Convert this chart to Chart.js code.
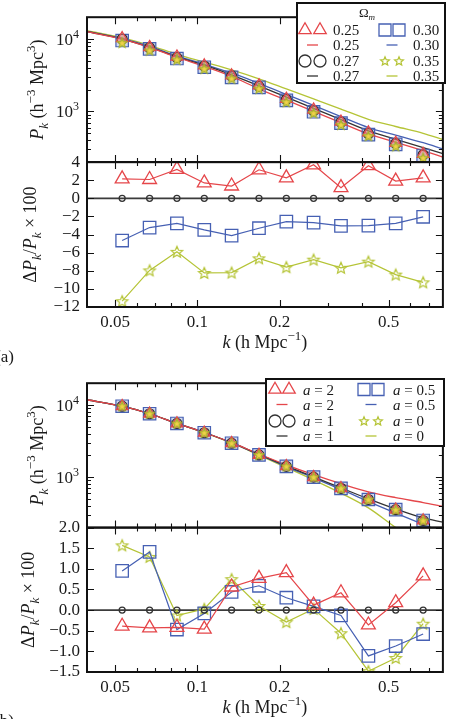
<!DOCTYPE html>
<html>
<head>
<meta charset="utf-8">
<script src="https://cdn.jsdelivr.net/npm/chart.js@4.4.0/dist/chart.umd.min.js"></script>
<style>
  html, body { margin: 0; padding: 0; background: #fff; }
  #wrap { position: relative; width: 453px; height: 719px; overflow: hidden; }
  .box { position: absolute; left: 0; width: 453px; }
  #boxA { top: 0; height: 366px; }
  #boxB { top: 366px; height: 353px; }
</style>
</head>
<body>
<div id="wrap">
  <div class="box" id="boxA"><canvas id="chartA"></canvas></div>
  <div class="box" id="boxB"><canvas id="chartB"></canvas></div>
</div>
<script>
// k grid of the model curves, and the 12 measured k bins
var kLine = [0.0395, 0.0531, 0.0669, 0.0842, 0.106, 0.1334, 0.168, 0.2115, 0.266, 0.335, 0.422, 0.531, 0.669, 0.79];
var kPts = [0.0531, 0.0669, 0.0842, 0.106, 0.1334, 0.168, 0.2115, 0.266, 0.335, 0.422, 0.531, 0.669];
var xTicks = [0.05, 0.1, 0.2, 0.5];

// (a) model curves P(k) for Omega_m
var lineA025 = [12650, 9950, 7650, 5600, 4200, 3050, 2050, 1435, 1005, 700, 490, 375, 287, 235];
var lineA027 = [12700, 10000, 7750, 5680, 4350, 3200, 2250, 1575, 1105, 770, 540, 413, 316, 262];
var lineA030 = [12750, 10100, 7900, 5850, 4480, 3400, 2440, 1720, 1210, 850, 600, 470, 370, 305];
var lineA035 = [13000, 10400, 8200, 6150, 4800, 3750, 2820, 2050, 1490, 1080, 780, 620, 500, 410];
// (a) measured P(k)
var pkA025 = [10220, 7720, 5710, 4300, 3130, 2290, 1490, 1060, 720, 511, 368, 258];
var pkA027 = [10000, 7560, 5530, 4230, 3090, 2220, 1460, 1020, 710, 493, 361, 252];
var pkA030 = [9530, 7320, 5380, 4080, 2960, 2150, 1420, 990, 690, 478, 351, 247];
var pkA035 = [8860, 6960, 5200, 3880, 2840, 2070, 1350, 950, 655, 459, 331, 229];
// (a) relative difference x 100
var dA025 = [2.15, 2.08, 3.2, 1.7, 1.36, 3.15, 2.26, 3.7, 1.18, 3.6, 1.9, 2.26];
var dA027 = [0, 0, 0, 0, 0, 0, 0, 0, 0, 0, 0, 0];
var dA030 = [-4.66, -3.23, -2.76, -3.48, -4.12, -3.3, -2.58, -2.69, -3.05, -3.01, -2.76, -2.04];
var dA035 = [-11.36, -7.96, -5.91, -8.24, -8.2, -6.63, -7.6, -6.77, -7.67, -6.99, -8.42, -9.28];

// (b) model curves for a
var lineB2 = [11800, 9600, 7550, 5560, 4150, 3010, 2090, 1480, 1080, 810, 625, 520, 445, 392];
var lineB1 = [11800, 9600, 7550, 5560, 4150, 3000, 2070, 1430, 1010, 710, 500, 362, 272, 238];
var lineB05 = [11800, 9600, 7550, 5560, 4150, 2990, 2050, 1400, 975, 675, 458, 318, 222, 172];
var lineB0 = [11800, 9600, 7550, 5560, 4140, 2970, 2020, 1360, 915, 600, 375, 200, 112, 66];
// (b) measured P(k)
var pkB = [9600, 7550, 5540, 4120, 2950, 2030, 1410, 1000, 700, 490, 354, 251];
// (b) relative difference x 100
var dB2 = [-0.39, -0.43, -0.42, -0.46, 0.56, 0.77, 0.91, 0.12, 0.42, -0.36, 0.18, 0.83];
var dB1 = [0, 0, 0, 0, 0, 0, 0, 0, 0, 0, 0, 0];
var dB05 = [0.95, 1.41, -0.47, -0.08, 0.44, 0.59, 0.30, 0.09, -0.13, -1.11, -0.87, -0.58];
var dB0 = [1.57, 1.29, -0.13, 0.03, 0.75, 0.10, -0.29, 0.03, -0.56, -1.48, -1.16, -0.33];

var legLabelsA = ['0.25', '0.27', '0.30', '0.35'];
var legLabelsB = ['2', '1', '0.5', '0'];

var FONT = '"Liberation Serif", "DejaVu Serif", serif';
var RED = '#e5464a', BLUE = '#4660b3', YEL = '#b5c436', BLK = '#333333';
var TXT = '#1a1a1a';

// five-point star marker (chart.js 'star' is an asterisk)
function starImg(R, stroke, fill) {
    var s = Math.ceil(R * 2 + 4);
    var c = document.createElement('canvas');
    c.width = s; c.height = s;
    var g = c.getContext('2d');
    g.translate(s / 2, s / 2 + R * 0.08);
    g.beginPath();
    for (var i = 0; i < 10; i++) {
        var r = i % 2 ? R * 0.45 : R;
        var a = -Math.PI / 2 + i * Math.PI / 5;
        g.lineTo(r * Math.cos(a), r * Math.sin(a));
    }
    g.closePath();
    if (fill) { g.fillStyle = fill; g.fill(); }
    g.strokeStyle = stroke; g.lineWidth = 1.2; g.stroke();
    return c;
}
var starTop = starImg(5, '#a9b52c', '#f0d24a');
var starBot = starImg(6, YEL, null);
var starLeg = starImg(4.6, YEL, null);

function pts(xs, ys) {
    return xs.map(function (x, i) { return {x: x, y: ys[i]}; });
}

function curve(ys, color) {
    return {data: pts(kLine, ys), yAxisID: 'yTop', borderColor: color, borderWidth: 1.3,
        pointRadius: 0, cubicInterpolationMode: 'monotone', fill: false, order: 20};
}
function marks(ys, style, r, color, bg, order) {
    return {data: pts(kPts, ys), yAxisID: 'yTop', showLine: false, pointStyle: style, pointRadius: r,
        pointBorderColor: color, pointBackgroundColor: bg, pointBorderWidth: 1.2, order: order};
}
function diffs(ys, style, r, color, order, noLine) {
    return {data: pts(kPts, ys), yAxisID: 'yBot', showLine: !noLine, borderColor: color, borderWidth: 1.2,
        pointStyle: style, pointRadius: r, pointBorderColor: color, pointBackgroundColor: 'rgba(0,0,0,0)',
        pointBorderWidth: 1.3, order: order, tension: 0};
}

// rich text: segments {t, it, sub, sup}
function rich(ctx, segs, x, y, opt) {
    var base = opt.size || 17, small = Math.round(base * 0.7);
    var fontOf = function (s) { return (s.it ? 'italic ' : '') + ((s.sub || s.sup) ? small : base) + 'px ' + FONT; };
    var w = 0;
    segs.forEach(function (s) { ctx.font = fontOf(s); s._w = ctx.measureText(s.t).width; w += s._w; });
    ctx.save();
    ctx.translate(x, y);
    if (opt.rot) ctx.rotate(opt.rot);
    var cx = opt.align === 'right' ? -w : (opt.align === 'left' ? 0 : -w / 2);
    ctx.textAlign = 'left'; ctx.textBaseline = 'alphabetic';
    ctx.fillStyle = opt.color || TXT;
    segs.forEach(function (s) {
        ctx.font = fontOf(s);
        var dy = s.sup ? -base * 0.42 : (s.sub ? base * 0.25 : 0);
        ctx.fillText(s.t, cx, dy);
        cx += s._w;
    });
    ctx.restore();
}

function drawMark(ctx, kind, x, y, color) {
    ctx.save();
    ctx.strokeStyle = color; ctx.lineWidth = 1.3;
    ctx.beginPath();
    if (kind === 'tri') {
        var r = 7.2;
        ctx.moveTo(x, y - r); ctx.lineTo(x + r * 0.866, y + r * 0.5); ctx.lineTo(x - r * 0.866, y + r * 0.5); ctx.closePath();
        ctx.stroke();
    } else if (kind === 'sq') {
        ctx.rect(x - 6, y - 6, 12, 12); ctx.stroke();
    } else if (kind === 'circ') {
        ctx.arc(x, y, 6, 0, Math.PI * 2); ctx.stroke();
    } else if (kind === 'star') {
        ctx.drawImage(starLeg, x - starLeg.width / 2, y - starLeg.height / 2);
    }
    ctx.restore();
}

function drawLegend(ctx, L) {
    ctx.save();
    ctx.fillStyle = '#fff';
    ctx.fillRect(L.x, L.y, L.w, L.h);
    ctx.strokeStyle = '#111'; ctx.lineWidth = 2;
    ctx.strokeRect(L.x, L.y, L.w, L.h);
    if (L.title) {
        rich(ctx, [{t: 'Ω'}, {t: 'm', it: true, sub: true}], L.titleX, L.titleY, {size: 13});
    }
    L.cols.forEach(function (col, c) {
        col.forEach(function (it, r) {
            var y = L.rows[r];
            var m = L.marks[c];
            if (it.mark) {
                drawMark(ctx, it.mark, m[0], y, it.color);
                drawMark(ctx, it.mark, m[1], y, it.color);
            } else {
                var mid = (m[0] + m[1]) / 2;
                ctx.strokeStyle = it.color; ctx.lineWidth = 1.3;
                ctx.beginPath(); ctx.moveTo(mid - 5.5, y); ctx.lineTo(mid + 5.5, y); ctx.stroke();
            }
            rich(ctx, it.text, L.textX[c], y + 5, {size: 15, align: 'left'});
        });
    });
    ctx.restore();
}

function makePanels(cfg) {
    return {
        id: 'panels',
        beforeDatasetsDraw: function (chart) {
            var ctx = chart.ctx, xs = chart.scales.x, yb = chart.scales.yBot;
            var y0 = yb.getPixelForValue(0);
            ctx.save();
            ctx.strokeStyle = '#3b3b3b'; ctx.lineWidth = 1.8;
            ctx.beginPath(); ctx.moveTo(xs.left, y0); ctx.lineTo(xs.right, y0); ctx.stroke();
            ctx.restore();
        },
        beforeDatasetDraw: function (chart, args) {
            var ctx = chart.ctx, m = args.meta;
            ctx.save();
            ctx.beginPath();
            ctx.rect(m.xScale.left, m.yScale.top, m.xScale.right - m.xScale.left, m.yScale.bottom - m.yScale.top);
            ctx.clip();
        },
        afterDatasetDraw: function (chart) { chart.ctx.restore(); },
        afterDraw: function (chart) {
            var ctx = chart.ctx, xs = chart.scales.x, yt = chart.scales.yTop, yb = chart.scales.yBot;
            var xMinor = [0.06, 0.07, 0.08, 0.09, 0.3, 0.4, 0.6, 0.7];
            var logMajor = [1000, 10000], logMinor = [];
            [100, 1000, 10000].forEach(function (d) {
                for (var i = 2; i <= 9; i++) if (i * d > 200 && i * d < 20000) logMinor.push(i * d);
            });
            var linMajor = yb.ticks.map(function (t) { return t.value; });
            ctx.save();
            ctx.strokeStyle = '#111';
            [[yt, logMajor, logMinor], [yb, linMajor, []]].forEach(function (p) {
                var ys = p[0], L = xs.left, R = xs.right, T = ys.top, B = ys.bottom;
                ctx.lineWidth = 1.1;
                ctx.beginPath();
                var xt = function (arr, len) {
                    arr.forEach(function (v) {
                        var q = Math.round(xs.getPixelForValue(v)) + 0.5;
                        ctx.moveTo(q, B); ctx.lineTo(q, B - len);
                        ctx.moveTo(q, T); ctx.lineTo(q, T + len);
                    });
                };
                var yt2 = function (arr, len) {
                    arr.forEach(function (v) {
                        var q = Math.round(ys.getPixelForValue(v)) + 0.5;
                        ctx.moveTo(L, q); ctx.lineTo(L + len, q);
                        ctx.moveTo(R, q); ctx.lineTo(R - len, q);
                    });
                };
                xt(xTicks, 7); xt(xMinor, 4);
                yt2(p[1], 7); yt2(p[2], 4);
                ctx.stroke();
                ctx.lineWidth = 2;
                ctx.strokeRect(L, T, R - L, B - T);
            });
            // log tick labels
            [[1000, '3'], [10000, '4']].forEach(function (p) {
                rich(ctx, [{t: '10'}, {t: p[1], sup: true}], 79, yt.getPixelForValue(p[0]) + 6, {size: 17, align: 'right'});
            });
            // axis titles
            var cyT = (yt.top + yt.bottom) / 2, cyB = (yb.top + yb.bottom) / 2;
            rich(ctx, [{t: 'P', it: true}, {t: 'k', it: true, sub: true}, {t: ' (h'}, {t: '−3', sup: true},
                {t: ' Mpc'}, {t: '3', sup: true}, {t: ')'}], 43, cyT, {size: 18, rot: -Math.PI / 2});
            rich(ctx, [{t: 'Δ'}, {t: 'P', it: true}, {t: 'k', it: true, sub: true}, {t: '/'}, {t: 'P', it: true},
                {t: 'k', it: true, sub: true}, {t: ' × 100'}], cfg.botTitleX, cyB, {size: 18, rot: -Math.PI / 2});
            rich(ctx, [{t: 'k', it: true}, {t: ' (h Mpc'}, {t: '−1', sup: true}, {t: ')'}],
                (xs.left + xs.right) / 2, yb.bottom + 41, {size: 18});
            drawLegend(ctx, cfg.legend);
            rich(ctx, [{t: cfg.tag}], 14, cfg.tagY, {size: 17, align: 'right'});
            ctx.restore();
        }
    };
}

function buildChart(id, datasets, cfg) {
    return new Chart(document.getElementById(id), {
        type: 'line',
        data: {datasets: datasets},
        options: {
            responsive: true,
            maintainAspectRatio: false,
            animation: false,
            events: [],
            layout: {padding: {top: cfg.padTop, right: 4, left: 0, bottom: 0}},
            plugins: {legend: {display: false}, tooltip: {enabled: false}},
            scales: {
                x: {
                    type: 'logarithmic', min: 0.0395, max: 0.79, position: 'bottom',
                    grid: {display: false, drawTicks: false}, border: {display: false},
                    ticks: {font: {family: FONT, size: 17}, color: TXT, padding: 5, autoSkip: false, maxRotation: 0,
                        callback: function (v) { return String(v); }},
                    afterBuildTicks: function (s) { s.ticks = xTicks.map(function (v) { return {value: v}; }); },
                    afterFit: function (s) { s.height = cfg.xHeight; }
                },
                yBot: {
                    type: 'linear', position: 'left', stack: 'p', stackWeight: 1, weight: 1,
                    min: cfg.botMin, max: cfg.botMax,
                    grid: {display: false, drawTicks: false}, border: {display: false},
                    ticks: {stepSize: cfg.botStep, autoSkip: false, font: {family: FONT, size: 17}, color: TXT, padding: 7,
                        callback: cfg.botFmt},
                    afterFit: function (s) { s.width = 87; }
                },
                yTop: {
                    type: 'logarithmic', position: 'left', stack: 'p', stackWeight: 1, weight: 2,
                    min: 200, max: 20000,
                    grid: {display: false, drawTicks: false}, border: {display: false},
                    ticks: {display: false},
                    afterFit: function (s) { s.width = 87; }
                }
            }
        },
        plugins: [makePanels(cfg)]
    });
}

function legendCols(labels, fmt) {
    return [
        [{mark: 'tri', color: RED, text: fmt(labels[0])}, {color: RED, text: fmt(labels[0])},
         {mark: 'circ', color: BLK, text: fmt(labels[1])}, {color: BLK, text: fmt(labels[1])}],
        [{mark: 'sq', color: BLUE, text: fmt(labels[2])}, {color: BLUE, text: fmt(labels[2])},
         {mark: 'star', color: YEL, text: fmt(labels[3])}, {color: YEL, text: fmt(labels[3])}]
    ];
}

var TRI_BG = 'rgba(240,110,80,0.45)', SQ_BG = 'rgba(120,140,210,0.35)';

// (a)
buildChart('chartA', [
    marks(pkA025, 'triangle', 6.8, RED, TRI_BG, 3),
    marks(pkA027, 'circle', 5, BLK, 'rgba(0,0,0,0)', 4),
    marks(pkA030, 'rect', 8.8, BLUE, SQ_BG, 5),
    marks(pkA035, starTop, 5, YEL, YEL, 2),
    curve(lineA025, RED), curve(lineA027, BLK), curve(lineA030, BLUE), curve(lineA035, YEL),
    diffs(dA025, 'triangle', 8, RED, 6),
    diffs(dA027, 'circle', 3, BLK, 7, true),
    diffs(dA030, 'rect', 8.8, BLUE, 8),
    diffs(dA035, starBot, 6, YEL, 9)
], {
    padTop: 9, xHeight: 59, botMin: -12, botMax: 4, botStep: 2, botTitleX: 36, tag: '(a)', tagY: 362,
    botFmt: function (v) { return (v < 0 ? '\u2212' : '') + Math.abs(v); },
    legend: {x: 297, y: 3, w: 148, h: 80, title: true, titleX: 367, titleY: 17,
        rows: [30, 45, 61, 76], marks: [[305, 320], [385, 399]], textX: [333, 413],
        cols: legendCols(legLabelsA, function (s) { return [{t: s}]; })}
});

// (b)
buildChart('chartB', [
    marks(pkB, 'triangle', 6.8, RED, TRI_BG, 3),
    marks(pkB, 'circle', 5, BLK, 'rgba(0,0,0,0)', 4),
    marks(pkB, 'rect', 8.8, BLUE, SQ_BG, 5),
    marks(pkB, starTop, 5, YEL, YEL, 2),
    curve(lineB2, RED), curve(lineB1, BLK), curve(lineB05, BLUE), curve(lineB0, YEL),
    diffs(dB2, 'triangle', 8, RED, 6),
    diffs(dB1, 'circle', 3, BLK, 7, true),
    diffs(dB05, 'rect', 8.8, BLUE, 8),
    diffs(dB0, starBot, 6, YEL, 9)
], {
    padTop: 8, xHeight: 47, botMin: -1.5, botMax: 2.0, botStep: 0.5, botTitleX: 34, tag: '(b)', tagY: 360,
    botFmt: function (v) { return (v < 0 ? '\u2212' : '') + Math.abs(v).toFixed(1); },
    legend: {x: 266, y: 13, w: 178, h: 67, title: false,
        rows: [23.5, 38.5, 55, 70], marks: [[275, 289], [364, 378]], textX: [303, 393],
        cols: legendCols(legLabelsB, function (s) { return [{t: 'a', it: true}, {t: ' = ' + s}]; })}
});
</script>
</body>
</html>
